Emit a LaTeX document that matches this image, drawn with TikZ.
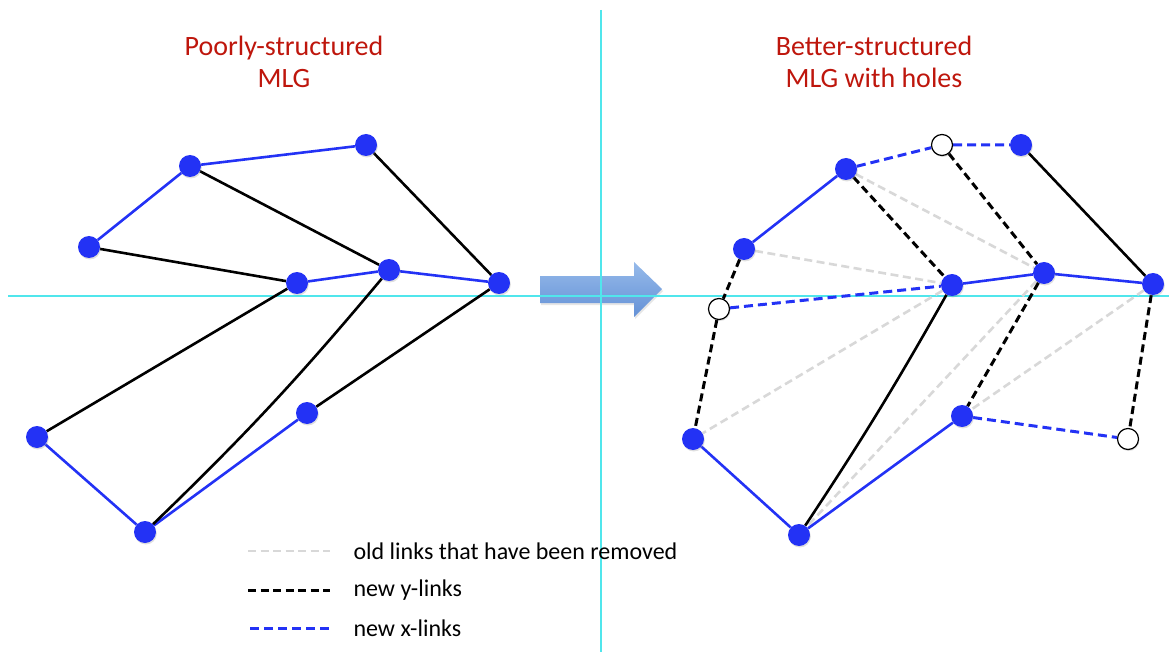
\documentclass[tikz,border=0pt]{standalone}
\usepackage{fontspec}
\setmainfont{Carlito}
\usepackage{tikz}
\usetikzlibrary{shadows}
\pgfdeclarelayer{background}
\pgfsetlayers{background,main}

\definecolor{mlgblue}{RGB}{35,50,245}
\definecolor{mlgred}{RGB}{190,22,12}
\definecolor{guide}{RGB}{80,230,236}
\definecolor{oldgray}{RGB}{216,216,216}
\definecolor{arrowtop}{RGB}{150,186,234}
\definecolor{arrowbot}{RGB}{100,145,214}

\begin{document}
\begin{tikzpicture}[x=1pt, y=-1pt,
  dot/.style={circle, fill=mlgblue, inner sep=0pt, minimum size=22pt,
    drop shadow={opacity=.25, shadow xshift=.8pt, shadow yshift=-1.5pt}},
  hole/.style={circle, draw=black, line width=1.2pt, fill=white, inner sep=0pt, minimum size=21pt,
    drop shadow={opacity=.25, shadow xshift=.8pt, shadow yshift=-1.5pt}},
  xlink/.style={mlgblue, line width=2.6pt},
  ylink/.style={black, line width=2.6pt},
  newx/.style={xlink, line width=3pt, dash pattern=on 9pt off 5pt},
  newy/.style={ylink, line width=3pt, dash pattern=on 8pt off 4.5pt},
  oldlink/.style={oldgray, line width=2.6pt, dash pattern=on 8pt off 4.5pt},
  title/.style={mlgred, font=\fontsize{28}{32}\selectfont, align=center},
  legend/.style={font=\fontsize{24}{28}\selectfont, anchor=west}]
\useasboundingbox (0,0) rectangle (1169,652);

% titles
\node[title] (ttlp) at (284,62) {Poorly-structured\\MLG};
\node[title] (ttlb) at (874,62) {Better-structured\\MLG with holes};

% poorly-structured MLG
\node[dot] (p1) at (89,247) {};
\node[dot] (p2) at (190,166) {};
\node[dot] (p3) at (366,145) {};
\node[dot] (p4) at (297,283) {};
\node[dot] (p5) at (389,270) {};
\node[dot] (p6) at (499,283) {};
\node[dot] (p7) at (37,437) {};
\node[dot] (p8) at (145,532) {};
\node[dot] (p9) at (307,413) {};

% better-structured MLG, holes are the open circles
\node[dot]  (b1)  at (744,249) {};
\node[dot]  (b2)  at (846,169) {};
\node[hole] (b3)  at (942,145) {};
\node[dot]  (b4)  at (1021,145) {};
\node[dot]  (b5)  at (952,285) {};
\node[dot]  (b6)  at (1044,273) {};
\node[dot]  (b7)  at (1153,284) {};
\node[hole] (b8)  at (719,309) {};
\node[dot]  (b9)  at (693,439) {};
\node[dot]  (b10) at (799,535) {};
\node[dot]  (b11) at (962,416) {};
\node[hole] (b12) at (1128,439) {};

\begin{pgfonlayer}{background}
  % arrow and guides
  \shade[top color=arrowtop, bottom color=arrowbot,
    drop shadow={opacity=.2, shadow xshift=1pt, shadow yshift=-2pt}]
    (540,276) -- (634,276) -- (634,262) -- (662,289) -- (634,317) -- (634,303) -- (540,303) -- cycle;
  \draw[guide, line width=1.3pt] (8,296) -- (1169,296);
  \draw[guide, line width=1.3pt] (601,10) -- (601,652);

  % x-links and y-links on the left
  \draw[xlink] (p1) -- (p2) -- (p3);
  \draw[xlink] (p4) -- (p5) -- (p6);
  \draw[xlink] (p7) -- (p8) -- (p9);
  \draw[ylink] (p1) -- (p4) -- (p7);
  \draw[ylink] (p2) -- (p5);
  \draw[ylink] (p5) to[bend left=3] (p8);
  \draw[ylink] (p3) -- (p6) -- (p9);

  % removed links on the right
  \draw[oldlink] (b1) -- (b5) -- (b9);
  \draw[oldlink] (b2) -- (b6) -- (b10);
  \draw[oldlink] (b7) -- (b11);

  % kept links
  \draw[xlink] (b1) -- (b2);
  \draw[xlink] (b5) -- (b6) -- (b7);
  \draw[xlink] (b9) -- (b10) -- (b11);
  \draw[ylink] (b4) -- (b7);
  \draw[ylink] (b5) to[bend left=2] (b10);

  % new links
  \draw[newx] (b2) -- (b3) -- (b4);
  \draw[newx] (b8) -- (b5);
  \draw[newx] (b11) -- (b12);
  \draw[newy] (b1) -- (b8) -- (b9);
  \draw[newy] (b2) -- (b5);
  \draw[newy] (b3) -- (b6) -- (b11);
  \draw[newy] (b7) -- (b12);
\end{pgfonlayer}

% legend
\node[legend] (lg1) at (350,551) {old links that have been removed};
\node[legend] (lg2) at (350,590) {new y-links};
\node[legend] (lg3) at (350,628) {new x-links};
\draw[oldlink] ([xshift=-102pt]lg1.west) -- ([xshift=-20pt]lg1.west);
\draw[newy] ([xshift=-102pt]lg2.west) -- ([xshift=-20pt]lg2.west);
\draw[newx] ([xshift=-100pt]lg3.west) -- ([xshift=-20pt]lg3.west);
\end{tikzpicture}
\end{document}
